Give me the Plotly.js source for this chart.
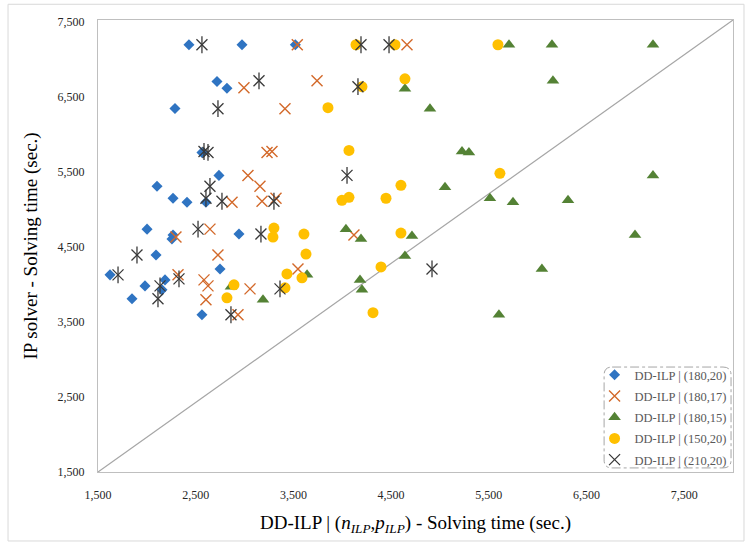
<!DOCTYPE html>
<html>
<head>
<meta charset="utf-8">
<script src="https://cdn.plot.ly/plotly-3.0.1.min.js"></script>
<style>html,body{margin:0;padding:0;background:#fff;}#chart{width:751px;height:548px;}</style>
</head>
<body>
<div id="chart"></div>
<script>
const seriesNames = ["DD-ILP | (180,20)", "DD-ILP | (180,17)", "DD-ILP | (180,15)", "DD-ILP | (150,20)", "DD-ILP | (210,20)"];

const blueX = [2431,2974,3520,2718,2820,2288,2564,2738,2104,2268,2411,2605,2002,2268,2257,2943,2094,1623,2749,2186,2155,1981,1848,2564];
const blueY = [7200,7200,7200,6710,6620,6350,5763,5457,5311,5152,5099,5099,4740,4661,4608,4674,4395,4130,4209,4063,3930,3983,3811,3598];

const orangeX = [3540,4663,2994,3742,3414,3230,3281,3035,3158,2872,3179,3322,2646,2298,2728,2319,2585,2626,2605,3056,2933,3547,4120];
const orangeY = [7200,7200,6626,6719,6347,5763,5776,5457,5311,5099,5112,5152,4740,4634,4395,4130,4063,3983,3797,3943,3598,4209,4661];

const greenX = [5707,6147,7181,6157,4642,4898,5226,5297,7181,5052,5512,5748,6311,6997,6044,5604,4038,4192,4714,4642,3640,4182,4202,2861,3189];
const greenY = [7200,7200,7200,6719,6613,6347,5776,5763,5457,5298,5152,5099,5125,4661,4209,3598,4740,4608,4647,4382,4130,4063,3930,3970,3797];

const yellowX = [4141,4540,5594,4642,4202,3854,4069,4601,3997,4069,4448,5614,3608,4601,3629,3434,3588,3414,4397,4315,3301,3291,2892,2820];
const yellowY = [7200,7200,7200,6746,6640,6360,5790,5325,5125,5165,5152,5484,4674,4687,4408,4143,4090,3957,4236,3625,4754,4634,3997,3824];

const blackX = [2564,4192,4479,3148,2728,2585,2626,2646,2605,2769,3301,4161,4049,4919,2524,3168,1899,1705,2135,2114,2329,3363,2861];
const blackY = [7200,7200,7200,6719,6347,5776,5763,5311,5152,5112,5112,6640,5457,4209,4740,4674,4395,4130,3983,3811,4076,3943,3598];

const tickVals = [1500,2500,3500,4500,5500,6500,7500];
const tickText = ["1,500","2,500","3,500","4,500","5,500","6,500","7,500"];

const serif = "Liberation Serif, DejaVu Serif, serif";

const traces = [
  {x: blueX, y: blueY, name: seriesNames[0], type: "scatter", mode: "markers", legendgroup: "a",
   marker: {symbol: "diamond", size: 8.5, color: "#2F74C2"}},
  {x: orangeX, y: orangeY, name: seriesNames[1], type: "scatter", mode: "markers", legendgroup: "b",
   marker: {symbol: "x-thin-open", size: 11, color: "#D3692A", line: {color: "#D3692A", width: 1.4}}},
  {x: greenX, y: greenY, name: seriesNames[2], type: "scatter", mode: "markers", legendgroup: "c",
   marker: {symbol: "triangle-up", size: 11, color: "#548235"}},
  {x: yellowX, y: yellowY, name: seriesNames[3], type: "scatter", mode: "markers", legendgroup: "d",
   marker: {symbol: "circle", size: 11, color: "#FFC000"}},
  {x: blackX, y: blackY, name: seriesNames[4], type: "scatter", mode: "markers", legendgroup: "e",
   marker: {symbol: "x-thin-open", size: 11, color: "#3A3A3A", line: {color: "#3A3A3A", width: 1.3}}},
  {x: blackX, y: blackY, name: seriesNames[4], type: "scatter", mode: "markers", legendgroup: "e", showlegend: false,
   hoverinfo: "skip",
   marker: {symbol: "line-ns-open", size: 12, color: "#3A3A3A", line: {color: "#3A3A3A", width: 1.3}}}
];

// legend box (rounded, dash-dot) in paper coords
const lx0 = 0.797, lx1 = 0.9969, ly0 = 0.0090, ly1 = 0.2322, rx = 0.0126, ry = 0.0177;
const legendPath = `M ${lx0+rx} ${ly1} L ${lx1-rx} ${ly1} Q ${lx1} ${ly1} ${lx1} ${ly1-ry} L ${lx1} ${ly0+ry} Q ${lx1} ${ly0} ${lx1-rx} ${ly0} L ${lx0+rx} ${ly0} Q ${lx0} ${ly0} ${lx0} ${ly0+ry} L ${lx0} ${ly1-ry} Q ${lx0} ${ly1} ${lx0+rx} ${ly1} Z`;

const layout = {
  width: 751, height: 548,
  margin: {l: 98, r: 18, t: 20, b: 76, pad: 0},
  paper_bgcolor: "#ffffff", plot_bgcolor: "#ffffff",
  font: {family: serif, color: "#262626", size: 12},
  showlegend: true,
  legend: {x: 0.782, y: 0.2477, xanchor: "left", yanchor: "top", bgcolor: "rgba(0,0,0,0)",
           borderwidth: 0, tracegroupgap: 2, font: {family: serif, size: 12.5, color: "#595959"}, itemwidth: 30},
  xaxis: {range: [1500, 8000], tickvals: tickVals, ticktext: tickText, showgrid: false, zeroline: false,
          showline: true, linecolor: "#BFBFBF", linewidth: 1, mirror: true, ticks: "", ticklabelstandoff: 12,
          tickfont: {family: serif, size: 12, color: "#262626"},
          title: {text: "DD-ILP | (<i>n</i><sub><i>ILP</i></sub>,<i>p</i><sub><i>ILP</i></sub>) - Solving time (sec.)",
                  font: {family: serif, size: 19, color: "#000"}, standoff: 14}},
  yaxis: {range: [1500, 7530], tickvals: tickVals, ticktext: tickText, showgrid: false, zeroline: false,
          showline: true, linecolor: "#BFBFBF", linewidth: 1, mirror: true, ticks: "", ticklabelstandoff: 10,
          tickfont: {family: serif, size: 12, color: "#262626"},
          title: {text: "IP solver - Solving time (sec.)", font: {family: serif, size: 19, color: "#000"}, standoff: 14}},
  shapes: [
    {type: "line", xref: "x", yref: "y", x0: 1500, y0: 1500, x1: 8000, y1: 7530,
     line: {color: "#A6A6A6", width: 1.2}, layer: "below"},
    {type: "rect", xref: "paper", yref: "paper", x0: -0.1417, x1: 1.0173, y0: -0.1526, y1: 1.0348,
     line: {color: "#D9D9D9", width: 1}, layer: "below"},
    {type: "path", xref: "paper", yref: "paper", path: legendPath,
     line: {color: "#A6A6A6", width: 1, dash: "dashdot"}}
  ]
};

Plotly.newPlot("chart", traces, layout, {displayModeBar: false, staticPlot: true});
</script>
</body>
</html>
